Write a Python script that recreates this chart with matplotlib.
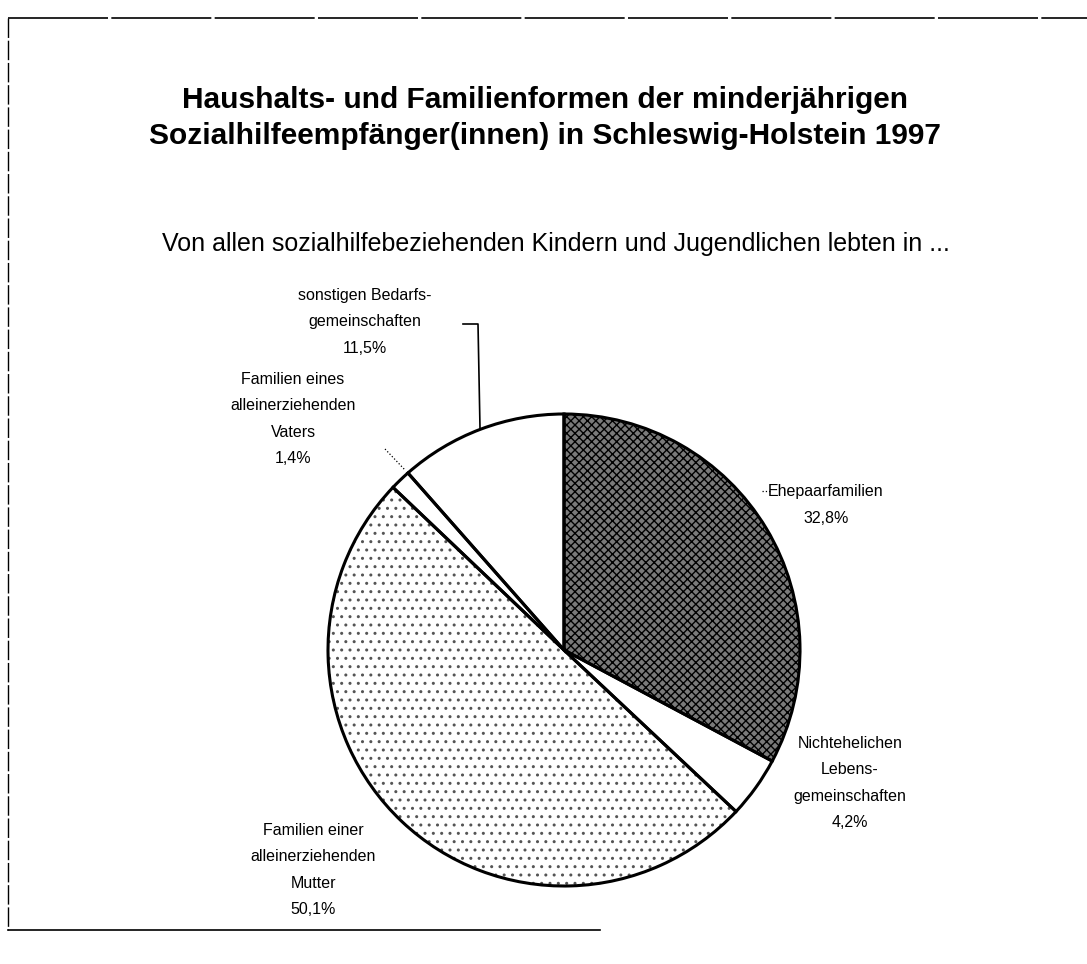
import matplotlib.pyplot as plt
from matplotlib.lines import Line2D

# data
categories = ["Ehepaarfamilien", "Nichtehelichen\nLebens-\ngemeinschaften",
              "Familien einer\nalleinerziehenden\nMutter",
              "Familien eines\nalleinerziehenden\nVaters",
              "sonstigen Bedarfs-\ngemeinschaften"]
shares = [32.8, 4.2, 50.1, 1.4, 11.5]

title = ("Haushalts- und Familienformen der minderjährigen\n"
         "Sozialhilfeempfänger(innen) in Schleswig-Holstein 1997")
subtitle = "Von allen sozialhilfebeziehenden Kindern und Jugendlichen lebten in ..."

W, H = 1087, 964
plt.rcParams['font.family'] = ['Liberation Sans', 'DejaVu Sans']
plt.rcParams['hatch.linewidth'] = 1.0

fig = plt.figure(figsize=(W / 100, H / 100), dpi=100)


def px(x, y):
    return x / W, 1 - y / H


# pie: center (564, 650), radius 236 px
cx, cy, r = 564, 650, 236
ax = fig.add_axes([(cx - r) / W, (H - cy - r) / H, 2 * r / W, 2 * r / H])

faces = ['#7a7a7a', 'white', 'white', 'white', 'white']
hatches = ['xxxx', None, '..', None, None]
hatch_cols = ['black', 'none', '#555555', 'none', 'none']

# fill + hatch layer
wedges, _ = ax.pie(shares, startangle=90, counterclock=False, radius=1,
                   colors=faces, wedgeprops=dict(linewidth=0))
for w, h, hc in zip(wedges, hatches, hatch_cols):
    if h:
        w.set_hatch(h)
        w.set_edgecolor(hc)
# outline layer
ax.pie(shares, startangle=90, counterclock=False, radius=1,
       colors=['none'] * len(shares),
       wedgeprops=dict(edgecolor='black', linewidth=2.2))
ax.set_xlim(-1, 1)
ax.set_ylim(-1, 1)
ax.set_aspect('auto')
ax.axis('off')

# title / subtitle
fig.text(*px(545, 118), title, ha='center', va='center', fontsize=21.5,
         fontweight='bold', linespacing=1.32)
fig.text(*px(556, 244), subtitle, ha='center', va='center', fontsize=18)


def pct(v):
    return f"{v:.1f}%".replace('.', ',')


labels = [c + "\n" + pct(v) for c, v in zip(categories, shares)]
label_pos = [(826, 505), (850, 783), (313, 870), (293, 419), (365, 322)]
for lab, (x, y) in zip(labels, label_pos):
    fig.text(*px(x, y), lab, ha='center', va='center', fontsize=11.5,
             linespacing=1.95)

# leader lines
fig.add_artist(Line2D([463 / W, 478 / W, 480 / W],
                      [1 - 324 / H, 1 - 324 / H, 1 - 428 / H],
                      color='black', lw=1.2))
fig.add_artist(Line2D([385 / W, 405 / W], [1 - 449 / H, 1 - 470 / H],
                      color='black', lw=0.9, ls=':'))
fig.add_artist(Line2D([762 / W, 770 / W], [1 - 491 / H, 1 - 491 / H],
                      color='black', lw=0.9, ls=':'))

# scanned frame
fig.add_artist(Line2D([8 / W, 8 / W], [1 - 18 / H, 1 - 930 / H],
                      color='black', lw=1.0, ls=(0, (14, 2))))
fig.add_artist(Line2D([8 / W, 1.0], [1 - 18 / H, 1 - 18 / H],
                      color='black', lw=1.2, ls=(0, (60, 2))))
fig.add_artist(Line2D([8 / W, 600 / W], [1 - 930 / H, 1 - 930 / H],
                      color='black', lw=1.2))

fig.savefig("out.png", dpi=100)
